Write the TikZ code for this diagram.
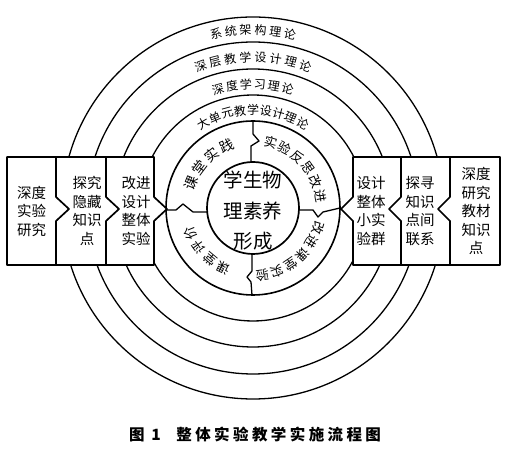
\documentclass[tikz,border=0pt]{standalone}
\usepackage{fontspec}
\usetikzlibrary{calc}
\newfontfamily\cjk{Noto Sans CJK SC}
\newfontfamily\cjkcap[LetterSpace=22]{Noto Sans CJK SC}

\begin{document}
\begin{tikzpicture}[x=1pt, y=1pt, line join=round,
        ring/.style={line width=1.3pt},
        stepbox/.style={draw, fill=white, line width=1.7pt},
        boxtext/.style={font=\cjk\fontsize{14.5}{18.5}\selectfont, align=center, inner sep=0pt},
        arctext/.style={font=\cjk\fontsize{12}{12}\selectfont, inner sep=0pt},
        midtext/.style={font=\cjk\fontsize{13}{13}\selectfont, inner sep=0pt}]

        \useasboundingbox (0,0) rectangle (523,452);

        \coordinate (C) at (253,244); % centre of the rings

        % theory rings
        \foreach \r in {113,139,166,191}
            \draw[ring] (C) circle (\r);

        % practice ring and its four breaks
        \draw[line width=1.6pt] (C) circle (87);
        \draw[ring] (253,331) -- (253,318) -- (259,311) -- (251,306) -- (251,290);
        \draw[ring] (252,198) -- (252,181) -- (247,175) -- (251,170) -- (252,157);
        \draw[ring] (166,242) -- (176,242) -- (183,248) -- (193,240) -- (207,240);
        \draw[ring] (299,242) -- (313,242) -- (318,235) -- (323,240) -- (340,244);

        % core
        \draw[line width=1.7pt] (C) circle (46);
        \node[font=\cjk\fontsize{19.5}{30.5}\selectfont, align=center, inner sep=0pt] (core)
            at ([yshift=-3]C) {学生物\\理素养\\形成};

        % labels on the theory rings
        \foreach \ch [count=\i from 0, evaluate=\i as \a using 102-\i*4.8] in {系,统,架,构,理,论}
            \node[arctext, rotate=\a-90] (sys\i) at ([shift={(\a:178)}]C) {\ch};
        \foreach \ch [count=\i from 0, evaluate=\i as \a using 110.3-\i*5.8] in {深,层,教,学,设,计,理,论}
            \node[arctext, rotate=\a-90] (deepd\i) at ([shift={(\a:151)}]C) {\ch};
        \foreach \ch [count=\i from 0, evaluate=\i as \a using 106.3-\i*6.5] in {深,度,学,习,理,论}
            \node[arctext, rotate=\a-90] (deepl\i) at ([shift={(\a:124)}]C) {\ch};
        \foreach \ch [count=\i from 0, evaluate=\i as \a using 120.4-\i*7.6] in {大,单,元,教,学,设,计,理,论}
            \node[arctext, rotate=\a-90] (unit\i) at ([shift={(\a:98)}]C) {\ch};

        % labels on the practice ring
        \foreach \ch [count=\i from 0, evaluate=\i as \a using 158-\i*15] in {课,堂,实,践}
            \node[midtext, font=\cjk\fontsize{14}{14}\selectfont, rotate=\a-90] (prac\i)
                at ([shift={(\a:67)}]C) {\ch};
        \foreach \ch [count=\i from 0, evaluate=\i as \a using 75-\i*13] in {实,验,反,思,改,进}
            \node[midtext, rotate=\a-90] (refl\i) at ([shift={(\a:68)}]C) {\ch};
        \foreach \ch [count=\i from 0, evaluate=\i as \a using -116-\i*14] in {课,堂,评,价}
            \node[midtext, rotate=\a-90] (eval\i) at ([shift={(\a:67)}]C) {\ch};
        \foreach \ch [count=\i from 0, evaluate=\i as \a using -17-\i*13] in {改,进,课,堂,实,验}
            \node[midtext, rotate=\a-90] (impr\i) at ([shift={(\a:68)}]C) {\ch};

        % left boxes, inner one first so every arrow lies on top
        \foreach \xa/\xb in {106/154, 56/106, 7/56}
            \draw[stepbox] (\xa,295) -- (\xb,295) -- (\xb,255) -- (\xb+13,243) -- (\xb,231)
                -- (\xb,187) -- (\xa,187) -- cycle;

        % right boxes, inner one first as well
        \foreach \xa/\xb in {353/401, 401/450, 450/500}
            \draw[stepbox] (\xb,295) -- (\xa,295) -- (\xa,255) -- (\xa-12,243) -- (\xa,231)
                -- (\xa,187) -- (\xb,187) -- cycle;

        \node[boxtext] (lone)   at (31.5,241) {深度\\实验\\研究};
        \node[boxtext] (ltwo)   at (87,241)   {探究\\隐藏\\知识\\点};
        \node[boxtext] (lthree) at (136,241)  {改进\\设计\\整体\\实验};
        \node[boxtext] (rone)   at (371,241)  {设计\\整体\\小实\\验群};
        \node[boxtext] (rtwo)   at (420,241)  {探寻\\知识\\点间\\联系};
        \node[boxtext] (rthree) at (476,241)  {深度\\研究\\教材\\知识\\点};

        % caption
        \node[font=\cjkcap\bfseries\fontsize{15.5}{16}\selectfont] (title) at (255,17)
            {图 1\quad 整体实验教学实施流程图};

    \end{tikzpicture}
\end{document}
